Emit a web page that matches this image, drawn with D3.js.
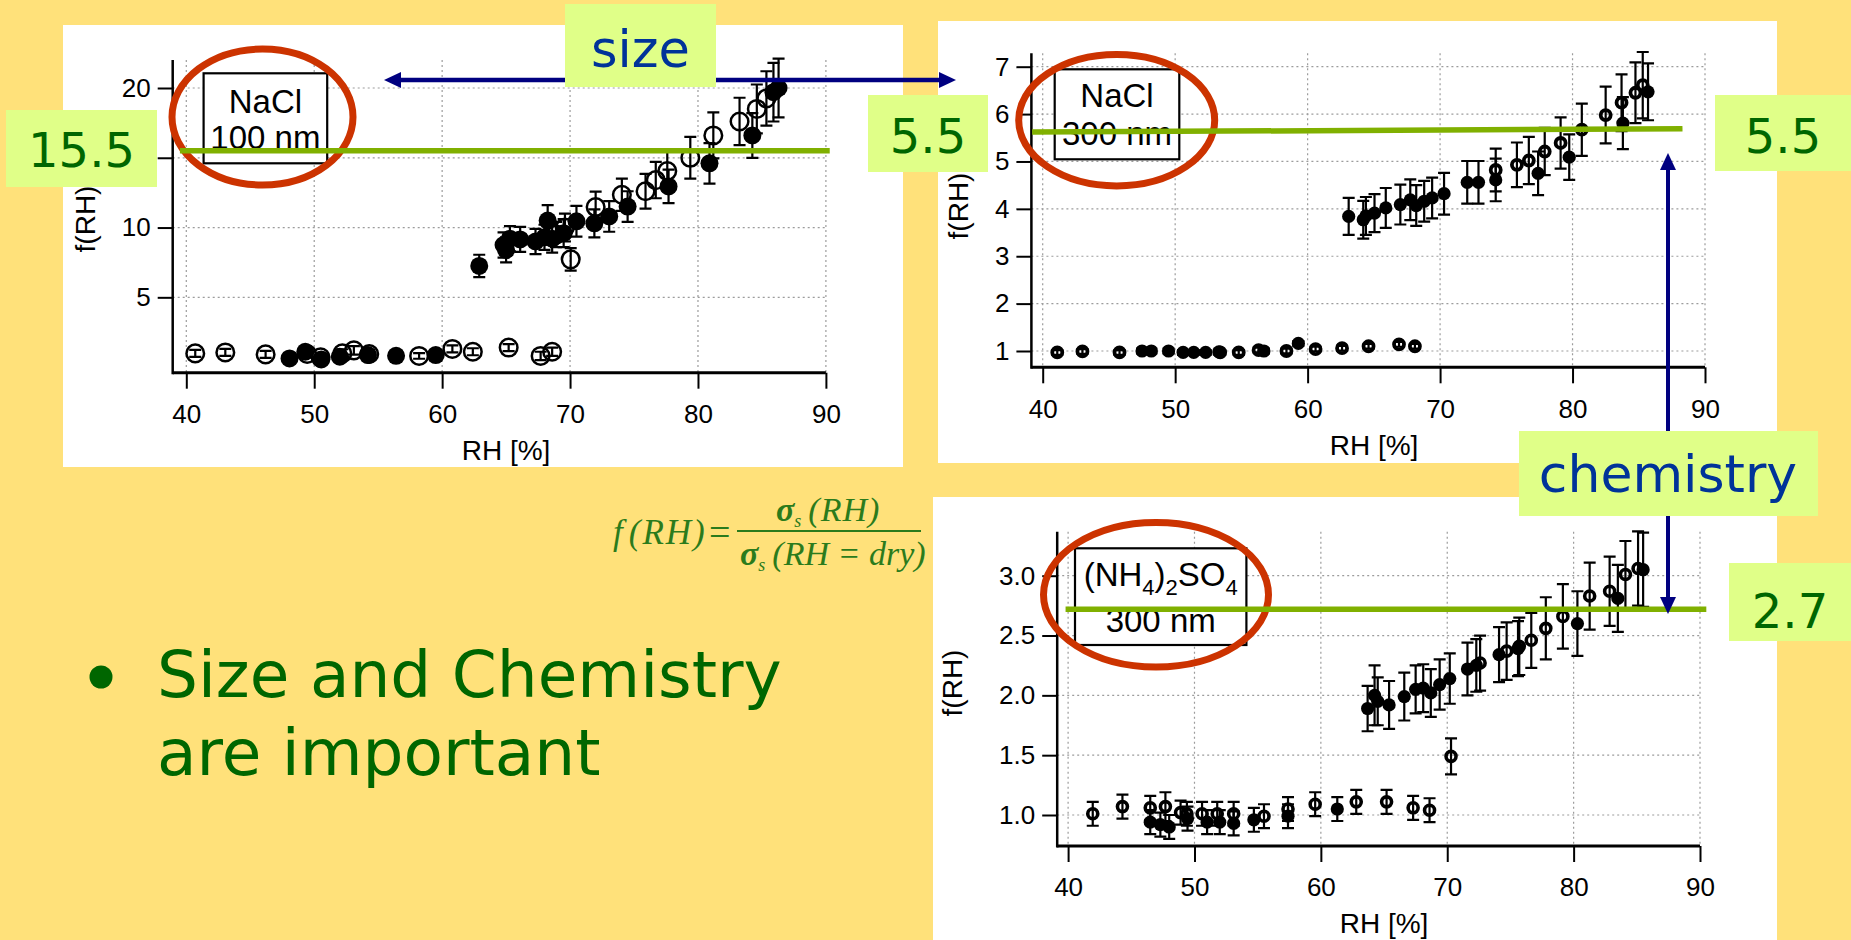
<!DOCTYPE html>
<html lang="en">
<head>
<meta charset="utf-8">
<title>f(RH): size and chemistry</title>
<style>
  body { margin: 0; background: #FFE17A; }
  svg { display: block; }
  .grid line { stroke: #9c9c9c; stroke-width: 1.2; stroke-dasharray: 2,3; }
  .lbl { font-family: "Liberation Sans", Arial, sans-serif; fill: #000; }
  .big { font-family: "DejaVu Sans", Verdana, sans-serif; }
</style>
</head>
<body>
<div id="container"></div>
<script src="https://cdnjs.cloudflare.com/ajax/libs/d3/7.8.5/d3.min.js"></script>
<script>
// shared x ticks (RH in %)
var rhTicks = [40, 50, 60, 70, 80, 90];

// NaCl 100 nm  -> [RH, f(RH), error]
var nacl100Ticks = [5, 10, 15, 20];
var nacl100Open = [
  [40.7, 0.98, 0.25], [43.05, 1.05, 0.25], [46.2, 0.91, 0.25], [49.45, 0.94, 0.25],
  [50.5, 0.7, 0.25], [52.2, 0.98, 0.3], [53.1, 1.2, 0.3], [54.3, 0.94, 0.3],
  [58.2, 0.8, 0.2], [60.8, 1.3, 0.25], [62.4, 1.1, 0.25], [65.2, 1.4, 0.25],
  [67.7, 0.8, 0.3], [68.6, 1.1, 0.3],
  [68.9, 9.5, 0.9], [69.6, 10.0, 1.0], [70.05, 7.72, 0.8], [72.0, 11.47, 1.1],
  [74.05, 12.35, 1.15], [75.9, 12.6, 1.25], [76.7, 13.4, 1.3], [77.6, 14.05, 1.4],
  [79.4, 15.0, 1.5], [81.2, 16.6, 1.65], [83.25, 17.6, 1.7], [84.6, 18.5, 1.75],
  [85.35, 19.25, 1.95]
];
var nacl100Filled = [
  [48.07, 0.62, 0.2], [49.3, 1.1, 0.2], [50.55, 0.55, 0.2], [52.0, 0.75, 0.2],
  [54.2, 0.86, 0.2], [56.4, 0.81, 0.2], [59.5, 0.86, 0.2],
  [62.9, 7.25, 0.8], [64.8, 8.75, 0.9], [65.0, 8.4, 0.9], [65.3, 9.2, 0.9],
  [66.1, 9.15, 0.9], [67.3, 9.0, 0.9], [68.0, 9.3, 0.9], [68.25, 10.5, 1.1],
  [68.6, 9.2, 1.0], [69.5, 9.6, 1.0], [70.5, 10.45, 1.1], [71.9, 10.3, 1.0],
  [73.06, 10.8, 1.1], [74.5, 11.5, 1.1], [77.7, 12.95, 1.2], [80.9, 14.6, 1.45],
  [84.25, 16.6, 1.6], [85.9, 19.7, 2.1], [86.3, 20.0, 2.1]
];

// NaCl 300 nm
var nacl300Ticks = [1, 2, 3, 4, 5, 6, 7];
var nacl300Open = [
  [41.1, 0.97, 0.05], [43.0, 0.99, 0.05], [45.8, 0.97, 0.05], [53.4, 0.97, 0.05],
  [54.8, 0.97, 0.05], [56.3, 1.02, 0.05], [58.4, 1.0, 0.05], [60.6, 1.04, 0.05],
  [62.6, 1.06, 0.05], [64.6, 1.1, 0.05], [66.9, 1.14, 0.05], [68.1, 1.1, 0.05],
  [74.2, 4.82, 0.45], [75.8, 4.93, 0.47], [76.7, 5.02, 0.5], [77.9, 5.21, 0.5],
  [79.1, 5.39, 0.54], [80.7, 5.67, 0.55], [82.5, 5.98, 0.6], [83.7, 6.24, 0.6],
  [84.75, 6.45, 0.64], [85.3, 6.61, 0.7]
];
var nacl300Filled = [
  [47.5, 1.0, 0.05], [48.2, 1.0, 0.05], [49.5, 1.0, 0.05], [50.6, 0.97, 0.05],
  [51.4, 0.97, 0.05], [52.3, 0.97, 0.05], [53.3, 0.98, 0.05], [56.7, 1.0, 0.05],
  [59.3, 1.16, 0.05],
  [63.1, 3.84, 0.39], [64.2, 3.77, 0.4], [64.4, 3.85, 0.4], [65.05, 3.91, 0.4],
  [65.9, 4.02, 0.42], [67.0, 4.09, 0.42], [67.75, 4.19, 0.43], [68.2, 4.07, 0.43],
  [68.8, 4.16, 0.43], [69.4, 4.23, 0.43], [70.3, 4.32, 0.44], [72.05, 4.56, 0.45],
  [72.9, 4.56, 0.45], [74.2, 4.61, 0.45], [77.4, 4.75, 0.46], [79.75, 5.09, 0.48],
  [83.8, 5.81, 0.55], [85.7, 6.47, 0.6]
];

// (NH4)2SO4 300 nm
var amsulTicks = [1.0, 1.5, 2.0, 2.5, 3.0];
var amsulOpen = [
  [41.95, 1.01, 0.1], [44.3, 1.07, 0.1], [46.5, 1.06, 0.1], [47.7, 1.07, 0.12],
  [48.9, 1.02, 0.1], [49.4, 1.01, 0.1], [50.6, 1.01, 0.1], [51.8, 1.01, 0.1],
  [53.1, 1.01, 0.1], [55.5, 0.99, 0.1], [57.4, 1.05, 0.1], [59.55, 1.09, 0.1],
  [62.8, 1.11, 0.1], [65.2, 1.11, 0.1], [67.3, 1.06, 0.1], [68.6, 1.04, 0.1],
  [70.3, 1.49, 0.15],
  [72.6, 2.27, 0.23], [74.7, 2.37, 0.24], [75.7, 2.41, 0.24], [76.65, 2.46, 0.23],
  [77.8, 2.56, 0.26], [79.15, 2.66, 0.27], [81.27, 2.83, 0.28], [82.85, 2.87, 0.29],
  [84.1, 3.01, 0.28], [85.1, 3.06, 0.31]
];
var amsulFilled = [
  [46.5, 0.94, 0.1], [47.3, 0.92, 0.1], [48.0, 0.9, 0.1], [49.45, 0.97, 0.1],
  [51.0, 0.94, 0.1], [52.0, 0.94, 0.1], [53.1, 0.93, 0.1], [54.7, 0.96, 0.1],
  [57.4, 0.99, 0.1], [61.3, 1.05, 0.1],
  [63.7, 1.89, 0.19], [64.25, 2.0, 0.25], [64.5, 1.95, 0.2], [65.4, 1.92, 0.2],
  [66.6, 1.99, 0.2], [67.5, 2.05, 0.2], [68.1, 2.06, 0.2], [68.7, 2.02, 0.2],
  [69.4, 2.09, 0.21], [70.2, 2.14, 0.21], [71.6, 2.22, 0.22], [72.3, 2.25, 0.22],
  [74.1, 2.34, 0.23], [75.6, 2.39, 0.23], [80.3, 2.6, 0.27], [83.5, 2.81, 0.28],
  [85.5, 3.05, 0.31]
];

// the horizontal reference values written in the boxes
var refValues = ["15.5", "5.5", "5.5", "2.7"];

var svg = d3.select("#container").append("svg")
  .attr("width", 1851).attr("height", 940);
svg.append("rect").attr("width", 1851).attr("height", 940).attr("fill", "#FFE17A");

var green = "#80B000", navy = "#000080", pale = "#E0FF88";

function drawPanel(p) {
  var g = svg.append("g");
  g.append("rect").attr("x", p.bg[0]).attr("y", p.bg[1])
    .attr("width", p.bg[2] - p.bg[0]).attr("height", p.bg[3] - p.bg[1]).attr("fill", "#fff");

  var x = d3.scaleLinear().domain([40, 90]).range(p.xRange);
  var y = d3.scaleLinear().domain(p.yDomain).range(p.yRange);

  var grid = g.append("g").attr("class", "grid");
  grid.selectAll(".v").data(rhTicks).enter().append("line")
    .attr("x1", function(d) { return x(d); }).attr("x2", function(d) { return x(d); })
    .attr("y1", p.top).attr("y2", p.bottom);
  grid.selectAll(".h").data(p.yTicks).enter().append("line")
    .attr("x1", p.left).attr("x2", x(90))
    .attr("y1", function(d) { return y(d); }).attr("y2", function(d) { return y(d); });

  var xa = g.append("g").attr("transform", "translate(0," + p.bottom + ")")
    .call(d3.axisBottom(x).tickValues(rhTicks).tickSize(16).tickPadding(16));
  var ya = g.append("g").attr("transform", "translate(" + p.left + ",0)")
    .call(d3.axisLeft(y).tickValues(p.yTicks).tickFormat(p.fmt).tickSize(15).tickPadding(7));
  [xa, ya].forEach(function(a) {
    a.select(".domain").remove();
    a.selectAll(".tick line").attr("stroke", "#000").attr("stroke-width", 2);
    a.selectAll(".tick text").attr("class", "lbl").attr("font-size", 26);
  });
  g.append("line").attr("x1", p.left).attr("x2", x(90)).attr("y1", p.bottom).attr("y2", p.bottom)
    .attr("stroke", "#000").attr("stroke-width", 3);
  g.append("line").attr("x1", p.left).attr("x2", p.left).attr("y1", p.top).attr("y2", p.bottom + 1.5)
    .attr("stroke", "#000").attr("stroke-width", 2.5);

  g.append("text").attr("class", "lbl").attr("font-size", 28).attr("text-anchor", "middle")
    .attr("x", p.xLabel[0]).attr("y", p.xLabel[1]).text("RH [%]");
  g.append("text").attr("class", "lbl").attr("font-size", 28).attr("text-anchor", "middle")
    .attr("transform", "translate(" + p.yLabel[0] + "," + p.yLabel[1] + ") rotate(-90)")
    .text("f(RH)");

  // error bars then markers
  function series(data, filled) {
    var s = g.append("g");
    s.selectAll(".eb").data(data).enter().append("path")
      .attr("fill", "none").attr("stroke", "#000").attr("stroke-width", 2.2)
      .attr("d", function(d) {
        var cx = x(d[0]), y0 = y(d[1] - d[2]), y1 = y(d[1] + d[2]), c = 6;
        return "M" + cx + "," + y0 + "V" + y1 +
          "M" + (cx - c) + "," + y0 + "H" + (cx + c) +
          "M" + (cx - c) + "," + y1 + "H" + (cx + c);
      });
    s.selectAll("circle").data(data).enter().append("circle")
      .attr("cx", function(d) { return x(d[0]); })
      .attr("cy", function(d) { return y(d[1]); })
      .attr("r", filled ? p.rFill : p.rOpen)
      .attr("fill", filled ? "#000" : "none")
      .attr("stroke", "#000").attr("stroke-width", filled ? 0 : p.ring);
  }
  series(p.open, false);
  series(p.filled, true);

  // sample label box
  var b = p.labelBox;
  g.append("rect").attr("x", b[0]).attr("y", b[1]).attr("width", b[2] - b[0]).attr("height", b[3] - b[1])
    .attr("fill", "#fff").attr("stroke", "#000").attr("stroke-width", 2.2);
  return { x: x, y: y };
}

var p1 = drawPanel({
  bg: [63, 25, 903, 467], xRange: [186.3, 825.9], yDomain: [0, 20], yRange: [367.1, 88],
  yTicks: nacl100Ticks, fmt: d3.format("d"), left: 172.7, top: 60, bottom: 372.7,
  xLabel: [506, 460], yLabel: [95, 219], open: nacl100Open, filled: nacl100Filled,
  rOpen: 8.8, ring: 2.5, rFill: 9, labelBox: [203.6, 73.3, 327.2, 163.3]
});
var p2 = drawPanel({
  bg: [938, 21, 1777, 463], xRange: [1042.7, 1705], yDomain: [1, 7], yRange: [351, 66.7],
  yTicks: nacl300Ticks, fmt: d3.format("d"), left: 1031.4, top: 53.3, bottom: 367.3,
  xLabel: [1374, 455], yLabel: [968, 206], open: nacl300Open, filled: nacl300Filled,
  rOpen: 5, ring: 3.8, rFill: 6.6, labelBox: [1054.7, 69.3, 1179.3, 159.3]
});
var p3 = drawPanel({
  bg: [933, 497, 1777, 940], xRange: [1068.1, 1700], yDomain: [1, 3], yRange: [815, 575.7],
  yTicks: amsulTicks, fmt: d3.format(".1f"), left: 1057.2, top: 531.7, bottom: 846,
  xLabel: [1384, 933], yLabel: [962, 683], open: amsulOpen, filled: amsulFilled,
  rOpen: 5, ring: 3.6, rFill: 6.6, labelBox: [1075, 548.3, 1246.4, 645]
});

// label texts
function boxText(x, y, s) {
  return svg.append("text").attr("class", "lbl").attr("font-size", 33)
    .attr("text-anchor", "middle").attr("x", x).attr("y", y).text(s);
}
boxText(265.4, 113, "NaCl");
boxText(265.4, 149, "100 nm");
boxText(1117, 107, "NaCl");
boxText(1117, 145, "300 nm");
var chem = svg.append("text").attr("class", "lbl").attr("font-size", 33)
  .attr("text-anchor", "middle").attr("x", 1160.7).attr("y", 586);
chem.append("tspan").text("(NH");
chem.append("tspan").attr("font-size", 22).attr("dy", 9).text("4");
chem.append("tspan").attr("dy", -9).text(")");
chem.append("tspan").attr("font-size", 22).attr("dy", 9).text("2");
chem.append("tspan").attr("dy", -9).text("SO");
chem.append("tspan").attr("font-size", 22).attr("dy", 9).text("4");
boxText(1160.7, 632, "300 nm");

// red circles
[[262.5, 117, 90.5, 68], [1116.7, 120.2, 98, 65.7], [1156, 594.8, 112.5, 72.3]].forEach(function(e) {
  svg.append("ellipse").attr("cx", e[0]).attr("cy", e[1]).attr("rx", e[2]).attr("ry", e[3])
    .attr("fill", "none").attr("stroke", "#CC3300").attr("stroke-width", 7);
});

// green reference lines, placed with each panel's own scales
[[p1, 15.5, 39.5, 90.3, 0], [p2, 5.62, 39.2, 88.3, 0.07], [p3, 2.72, 39.8, 90.5, 0]].forEach(function(l) {
  var pp = l[0];
  svg.append("line").attr("x1", pp.x(l[2])).attr("x2", pp.x(l[3]))
    .attr("y1", pp.y(l[1])).attr("y2", pp.y(l[1] + l[4]))
    .attr("stroke", green).attr("stroke-width", 5.5);
});

// arrows
svg.append("line").attr("x1", 398).attr("x2", 942).attr("y1", 80).attr("y2", 80)
  .attr("stroke", navy).attr("stroke-width", 4.5);
svg.append("path").attr("d", "M384,80 L401,72 L401,88 Z").attr("fill", navy);
svg.append("path").attr("d", "M956,80 L939,72 L939,88 Z").attr("fill", navy);
svg.append("line").attr("x1", 1668).attr("x2", 1668).attr("y1", 168).attr("y2", 598)
  .attr("stroke", navy).attr("stroke-width", 4);
svg.append("path").attr("d", "M1668,153 L1660,170 L1676,170 Z").attr("fill", navy);
svg.append("path").attr("d", "M1668,614 L1660,597 L1676,597 Z").attr("fill", navy);

// value boxes
var valueBoxes = [[6, 110, 157, 187, 167], [868, 95, 988, 172, 153], [1715, 95, 1851, 171, 153], [1729, 563, 1851, 641, 628]];
valueBoxes.forEach(function(b, i) {
  svg.append("rect").attr("x", b[0]).attr("y", b[1]).attr("width", b[2] - b[0]).attr("height", b[3] - b[1])
    .attr("fill", pale);
  svg.append("text").attr("class", "big").attr("font-size", 48).attr("fill", "#006600")
    .attr("text-anchor", "middle").attr("x", (b[0] + b[2]) / 2).attr("y", b[4]).text(refValues[i]);
});
svg.append("rect").attr("x", 565).attr("y", 4).attr("width", 151).attr("height", 83).attr("fill", pale);
svg.append("text").attr("class", "big").attr("font-size", 51).attr("fill", "#003399")
  .attr("text-anchor", "middle").attr("x", 640.5).attr("y", 67).text("size");
svg.append("rect").attr("x", 1519).attr("y", 431).attr("width", 299).attr("height", 85).attr("fill", pale);
svg.append("text").attr("class", "big").attr("font-size", 52).attr("fill", "#003399")
  .attr("text-anchor", "middle").attr("x", 1668).attr("y", 492).text("chemistry");

// formula
var fGreen = "#2B7B1C";
var ff = "'Liberation Serif', 'Times New Roman', serif";
var lhs = svg.append("text").attr("font-family", ff).attr("font-style", "italic").attr("font-size", 35)
  .attr("fill", fGreen).attr("x", 613).attr("y", 544);
lhs.append("tspan").text("f");
lhs.append("tspan").attr("dx", 6).attr("letter-spacing", 2).text("(RH)");
svg.append("text").attr("font-family", ff).attr("font-size", 38).attr("fill", fGreen)
  .attr("x", 709).attr("y", 545).text("=");
svg.append("line").attr("x1", 737).attr("x2", 921).attr("y1", 531).attr("y2", 531)
  .attr("stroke", fGreen).attr("stroke-width", 2);
var num = svg.append("text").attr("font-family", ff).attr("font-style", "italic").attr("font-size", 34)
  .attr("fill", fGreen).attr("x", 776).attr("y", 521);
num.append("tspan").attr("font-weight", "bold").text("σ");
num.append("tspan").attr("font-size", 18).attr("dy", 6).text("s");
num.append("tspan").attr("dy", -6).attr("dx", 7).attr("letter-spacing", 1).text("(RH)");
var den = svg.append("text").attr("font-family", ff).attr("font-style", "italic").attr("font-size", 34)
  .attr("fill", fGreen).attr("x", 740).attr("y", 565);
den.append("tspan").attr("font-weight", "bold").text("σ");
den.append("tspan").attr("font-size", 18).attr("dy", 6).text("s");
den.append("tspan").attr("dy", -6).attr("dx", 7).text("(RH = dry)");

// bullet text
svg.append("circle").attr("cx", 101).attr("cy", 677).attr("r", 11.5).attr("fill", "#006600");
svg.append("text").attr("class", "big").attr("font-size", 64.5).attr("fill", "#006600")
  .attr("x", 157).attr("y", 697).text("Size and Chemistry");
svg.append("text").attr("class", "big").attr("font-size", 64.5).attr("fill", "#006600")
  .attr("x", 157).attr("y", 775).text("are important");
</script>
</body>
</html>
